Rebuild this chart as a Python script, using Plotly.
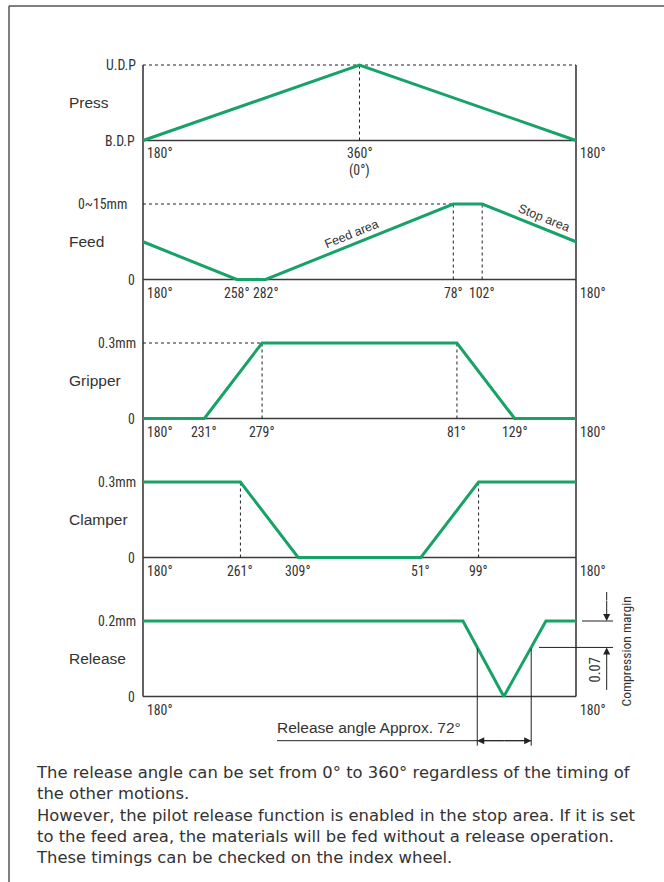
import plotly.graph_objects as go

W, H = 664, 882

# ---------------- data ----------------
press_angles = [180, 360, 180]
press_values = [0, 1, 0]

feed_angles = [180, 258, 282, 78, 102, 180]
feed_values = [7.5, 0, 0, 15, 15, 7.5]

gripper_angles = [180, 231, 279, 81, 129, 180]
gripper_values = [0, 0, 0.3, 0.3, 0, 0]

clamper_angles = [180, 261, 309, 51, 99, 180]
clamper_values = [0.3, 0.3, 0, 0, 0.3, 0.3]

release_angles = [180, 86, 120, 155, 180]
release_values = [0.2, 0.2, 0, 0.2, 0.2]

panel_names = ["Press", "Feed", "Gripper", "Clamper", "Release"]
panel_max = [1, 15, 0.3, 0.3, 0.2]
top_labels = ["U.D.P", "0~15mm", "0.3mm", "0.3mm", "0.2mm"]
bottom_labels = ["B.D.P", "0", "0", "0", "0"]
angle_ticks = [[360], [258, 282, 78, 102], [231, 279, 81, 129], [261, 309, 51, 99], []]
guide_angles = [[360], [78, 102], [279, 81], [261, 99], []]
guide_hline_end = [180, 78, 279, None, None]   # dashed top line from 180° to this angle
compression_margin = 0.07
note_lines = [
    "The release angle can be set from 0° to 360° regardless of the timing of",
    "the other motions.",
    "However, the pilot release function is enabled in the stop area. If it is set",
    "to the feed area, the materials will be fed without a release operation.",
    "These timings can be checked on the index wheel.",
]

# ---------------- layout geometry ----------------
GREEN = "#17a367"
AXC = "#3a3a3a"
TXT = "#333333"
NARROW = "Roboto Condensed, DejaVu Sans Condensed, sans-serif"
REG = "Liberation Sans, Arial, sans-serif"
NS = 13.8
X_L, X_R = 143, 576
TOPS = [65 + 139 * i for i in range(5)]
BOTS = [140.5 + 139 * i for i in range(5)]
PAD = 4
KX = (X_R - X_L) / 360.0


def xp(p):
    return p / W


def yp(p):
    return 1 - p / H


def unwrap(angles):
    xs = [angles[0]]
    for a, b in zip(angles, angles[1:]):
        xs.append(xs[-1] + ((b - a) % 360))
    return xs


def pos(a):
    return a if a >= 180 else a + 360


series = [
    (press_angles, press_values),
    (feed_angles, feed_values),
    (gripper_angles, gripper_values),
    (clamper_angles, clamper_values),
    (release_angles, release_values),
]

fig = go.Figure()
layout = dict(
    width=W, height=H, autosize=False,
    margin=dict(l=0, r=0, t=0, b=0),
    paper_bgcolor="white", plot_bgcolor="rgba(0,0,0,0)",
    showlegend=False,
)
shapes = []
annotations = []


def axname(i):
    return ("x", "y") if i == 0 else ("x%d" % (i + 1), "y%d" % (i + 1))


def label(**kw):
    d = dict(showarrow=False, xanchor="center", yanchor="middle")
    d.update(kw)
    annotations.append(d)


for i, (ang, val) in enumerate(series):
    xa, ya = axname(i)
    m = panel_max[i]
    h = BOTS[i] - TOPS[i]
    layout["xaxis" if i == 0 else "xaxis%d" % (i + 1)] = dict(
        domain=[xp(X_L - PAD), xp(X_R + PAD)],
        range=[180 - PAD / KX, 540 + PAD / KX],
        visible=False, anchor=ya, fixedrange=True,
    )
    layout["yaxis" if i == 0 else "yaxis%d" % (i + 1)] = dict(
        domain=[yp(BOTS[i] + PAD), yp(TOPS[i] - PAD)],
        range=[-PAD * m / h, m + PAD * m / h],
        visible=False, anchor=xa, fixedrange=True,
    )
    # baseline
    shapes.append(dict(type="line", xref=xa, yref=ya, x0=180, x1=540, y0=0, y1=0,
                       line=dict(color=AXC, width=1.6), layer="below"))
    # dashed guides
    for g in guide_angles[i]:
        shapes.append(dict(type="line", xref=xa, yref=ya, x0=pos(g), x1=pos(g), y0=0, y1=m,
                           line=dict(color="#222", width=1, dash="3px,3px"), layer="below"))
    if guide_hline_end[i] is not None:
        end = 540 if guide_hline_end[i] == 180 else pos(guide_hline_end[i])
        shapes.append(dict(type="line", xref=xa, yref=ya, x0=180, x1=end, y0=m, y1=m,
                           line=dict(color="#222", width=1, dash="3px,3px"), layer="below"))
    # curve
    fig.add_trace(go.Scatter(x=unwrap(ang), y=val, mode="lines",
                             line=dict(color=GREEN, width=3),
                             xaxis=xa, yaxis=ya, hoverinfo="skip"))
    # y labels
    label(xref="paper", yref=ya, x=xp(137.5 if i != 1 else 128.5), y=m, text=top_labels[i],
          xanchor="right", font=dict(family=NARROW, size=NS, color=TXT))
    label(xref="paper", yref=ya, x=xp(136.5), y=0, text=bottom_labels[i],
          xanchor="right", font=dict(family=NARROW, size=NS, color=TXT))
    # panel names
    label(xref="paper", yref=ya, x=xp(66.5), y=m / 2, text=panel_names[i],
          xanchor="left", font=dict(family=REG, size=15.5, color=TXT))
    # angle tick labels
    ty = yp(BOTS[i] + 13)
    label(xref=xa, yref="paper", x=180, y=ty, xshift=1.5, text="180°",
          xanchor="left", font=dict(family=NARROW, size=NS, color=TXT))
    label(xref=xa, yref="paper", x=540, y=ty, xshift=2, text="180°",
          xanchor="left", font=dict(family=NARROW, size=NS, color=TXT))
    for a in angle_ticks[i]:
        label(xref=xa, yref="paper", x=pos(a), y=ty, text="%d°" % a,
              font=dict(family=NARROW, size=NS, color=TXT))

# "(0°)" under 360°
label(xref="x", yref="paper", x=360, y=yp(BOTS[0] + 30), text="(0°)",
      font=dict(family=NARROW, size=NS, color=TXT))

# vertical frame lines of the chart (left and right axes)
for xx in (X_L, X_R):
    shapes.append(dict(type="line", xref="paper", yref="paper", x0=xp(xx), x1=xp(xx),
                       y0=yp(TOPS[0]), y1=yp(BOTS[-1]), line=dict(color=AXC, width=1.6),
                       layer="below"))

# outer border (top and left)
shapes.append(dict(type="line", xref="paper", yref="paper", x0=xp(9), x1=1, y0=yp(6), y1=yp(6),
                   line=dict(color="#555", width=1.5)))
shapes.append(dict(type="line", xref="paper", yref="paper", x0=xp(9), x1=xp(9), y0=yp(6), y1=0,
                   line=dict(color="#555", width=1.5)))

# area labels on feed curve
label(xref="x2", yref="y2", x=356, y=7.1, xshift=-3, yshift=10,
      text="Feed area", textangle=-22, font=dict(family=REG, size=12.5, color=TXT))
label(xref="x2", yref="y2", x=512.5, y=10.1, xshift=1, yshift=11,
      text="Stop area", textangle=22, font=dict(family=REG, size=12.5, color=TXT))

# ---- release angle / compression margin dimensioning ----
rel_x = unwrap(release_angles)
lvl = release_values[0] - compression_margin


def crossings(xs, ys, level):
    out = []
    for (x0, y0), (x1, y1) in zip(zip(xs, ys), zip(xs[1:], ys[1:])):
        if (y0 - level) * (y1 - level) < 0:
            out.append(x0 + (level - y0) * (x1 - x0) / (y1 - y0))
    return out


c_left, c_right = crossings(rel_x, release_values, lvl)
DIM_Y = 740.7
for cx in (c_left, c_right):
    shapes.append(dict(type="line", xref="x5", yref="paper", x0=cx, x1=cx,
                       y0=yp(BOTS[4] - 48), y1=yp(DIM_Y + 5), line=dict(color="#222", width=1)))
x_text_start = 180 + (277 - X_L) / KX
shapes.append(dict(type="line", xref="x5", yref="paper", x0=x_text_start, x1=c_right,
                   y0=yp(DIM_Y), y1=yp(DIM_Y), line=dict(color="#222", width=1)))
for cx, dx in ((c_left, 28), (c_right, -28)):
    annotations.append(dict(xref="x5", yref="paper", x=cx, y=yp(DIM_Y), ax=dx, ay=0,
                            text="", showarrow=True, arrowhead=2, arrowsize=1.4, arrowwidth=1,
                            arrowcolor="#222", standoff=0))
label(xref="paper", yref="paper", x=xp(275), y=yp(DIM_Y - 3),
      text="Release angle Approx. 72°", xanchor="left", yanchor="bottom",
      font=dict(family=REG, size=15.5, color=TXT))

# compression margin
shapes.append(dict(type="line", xref="paper", yref="y5", x0=xp(582), x1=xp(613),
                   y0=release_values[0], y1=release_values[0], line=dict(color="#222", width=1)))
shapes.append(dict(type="line", xref="paper", yref="y5", x0=xp(539), x1=xp(613),
                   y0=lvl, y1=lvl, line=dict(color="#222", width=1)))
shapes.append(dict(type="line", xref="paper", yref="paper", x0=xp(606.7), x1=xp(606.7),
                   y0=yp(592), y1=yp(600), line=dict(color="#222", width=1)))
annotations.append(dict(xref="paper", yref="y5", x=xp(606.7), y=release_values[0], ax=0, ay=-22,
                        text="", showarrow=True, arrowhead=2, arrowsize=1.4, arrowwidth=1,
                        arrowcolor="#222", standoff=0))
annotations.append(dict(xref="paper", yref="y5", x=xp(606.7), y=lvl, ax=0, ay=44,
                        text="", showarrow=True, arrowhead=2, arrowsize=1.4, arrowwidth=1,
                        arrowcolor="#222", standoff=0))
label(xref="paper", yref="paper", x=xp(595), y=yp(670.5),
      text="%.2f" % compression_margin, textangle=-90,
      font=dict(family=NARROW, size=14.5, color=TXT))
label(xref="paper", yref="paper", x=xp(625), y=yp(651.5),
      text="Compression margin", textangle=-90,
      font=dict(family=NARROW, size=13.5, color=TXT))

# explanatory note
label(xref="paper", yref="paper", x=xp(34), y=yp(761),
      text="<br>".join(note_lines), xanchor="left", yanchor="top", align="left",
      font=dict(family="DejaVu Sans", size=16.4, color=TXT))

layout["shapes"] = shapes
layout["annotations"] = annotations
fig.update_layout(**layout)
fig.write_html("out.html", config={"displayModeBar": False, "staticPlot": True},
               post_script="document.body.style.margin='0';")
